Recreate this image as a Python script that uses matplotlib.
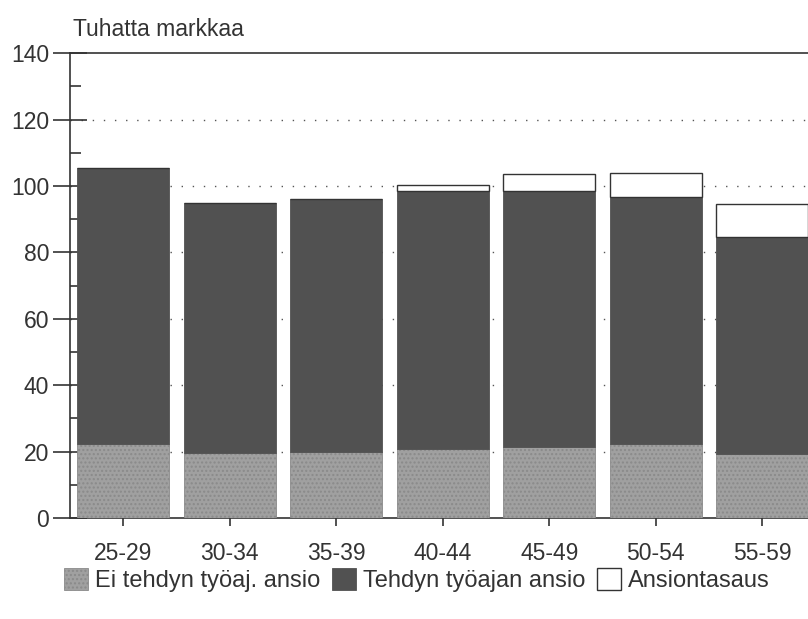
import matplotlib.pyplot as plt
import numpy as np
from matplotlib.ticker import MultipleLocator

plt.rcParams['font.family'] = ['Liberation Sans', 'DejaVu Sans']
plt.rcParams['hatch.color'] = '#8c8c8c'

groups = ['25-29', '30-34', '35-39', '40-44', '45-49', '50-54', '55-59']
ei_tehdyn = [22.3, 19.6, 19.9, 20.8, 21.5, 22.2, 19.4]
tehdyn = [83.1, 75.3, 76.1, 77.7, 77.0, 74.5, 65.2]
tasaus = [0.0, 0.0, 0.0, 1.8, 5.1, 7.2, 9.9]

labels = ['Ei tehdyn työaj. ansio', 'Tehdyn työajan ansio', 'Ansiontasaus']

fig = plt.figure(figsize=(8.08, 6.19), dpi=100)
ax = fig.add_axes([0.0866, 0.163, 0.9134, 0.751])

x = np.arange(len(groups))
w = 0.86
ax.bar(x, ei_tehdyn, w, color='#a0a0a0', edgecolor='#8a8a8a', linewidth=0.6,
       hatch='....', label=labels[0], zorder=3)
b2 = np.array(ei_tehdyn)
ax.bar(x, tehdyn, w, bottom=b2, color='#515151', edgecolor='#515151',
       linewidth=0.6, label=labels[1], zorder=3)
b3 = b2 + np.array(tehdyn)
ax.bar(x, tasaus, w, bottom=b3, color='white', edgecolor='#333333',
       linewidth=1.0, label=labels[2], zorder=3)

for yv in range(20, 140, 20):
    ax.axhline(yv, color='#555555', linestyle=(0, (1, 7)), linewidth=1.0, zorder=1)

ax.set_xlim(-0.5, 6.43)
ax.set_ylim(0, 140)
ax.yaxis.set_major_locator(MultipleLocator(20))
ax.yaxis.set_minor_locator(MultipleLocator(10))
ax.set_xticks(x)
ax.set_xticklabels(groups)
ax.tick_params(axis='y', which='major', direction='inout', length=24, width=1.2,
               labelsize=16.5, colors='#333333', pad=3)
ax.tick_params(axis='y', which='minor', direction='in', length=8, width=1.2,
               color='#333333')
ax.tick_params(axis='x', direction='out', length=6, width=1.2, labelsize=16.5,
               colors='#333333', pad=11)

for s in ['left', 'bottom', 'top']:
    ax.spines[s].set_color('#333333')
    ax.spines[s].set_linewidth(1.2)
ax.spines['right'].set_visible(False)

fig.text(0.09, 0.952, 'Tuhatta markkaa', fontsize=16.5, color='#333333',
         ha='left', va='center')

fig.legend(loc='center', bbox_to_anchor=(0.516, 0.063), ncol=3, frameon=False,
           fontsize=17, handlelength=1.0, handleheight=1.1, handletextpad=0.3,
           columnspacing=0.5, labelcolor='#333333')

fig.savefig('out.png', dpi=100)
